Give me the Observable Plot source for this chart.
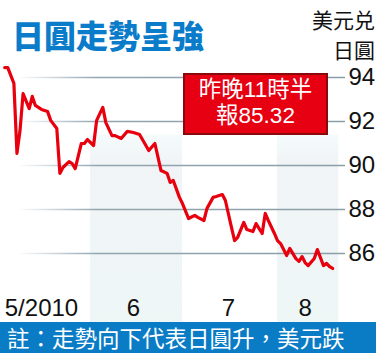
<!DOCTYPE html>
<html>
<head>
<meta charset="utf-8">
<script src="https://cdn.jsdelivr.net/npm/d3@7"></script>
<script src="https://cdn.jsdelivr.net/npm/@observablehq/plot@0.6"></script>
<style>
  html, body { margin: 0; padding: 0; background: #fff; }
  #wrap { position: relative; width: 376px; height: 353px; overflow: hidden; font-family: "Liberation Sans", "Noto Sans CJK TC", sans-serif; }
  #title { position: absolute; left: 12px; top: 14px; font-family: "Noto Sans CJK TC", sans-serif; font-weight: 900; font-size: 32px; line-height: 40px; color: #0a7cc9; white-space: nowrap; }
  #unit { position: absolute; right: 1px; top: 4px; font-family: "Noto Sans CJK TC", sans-serif; font-size: 21px; line-height: 30px; color: #111; text-align: right; }
  #box { position: absolute; left: 183px; top: 73px; width: 141px; height: 56px; background: #e60012; border: 2px solid #8a0a0a; color: #fff; text-align: center; font-size: 22.5px; line-height: 26px; padding-top: 2px; box-sizing: content-box; }
  #box div { white-space: nowrap; }
  #footer { position: absolute; left: 0; top: 322px; width: 376px; height: 31px; background: #0a7cc6; color: #fff; font-family: "Noto Sans CJK TC", sans-serif; font-size: 22.5px; line-height: 31px; padding-left: 7px; box-sizing: border-box; white-space: nowrap; }
  #chart { position: absolute; left: 0; top: 0; }
</style>
</head>
<body>
<div id="wrap">
  <div id="chart"></div>
  <div id="title"></div>
  <div id="unit"></div>
  <div id="box"></div>
  <div id="footer"></div>
</div>
<script>
// ---- data ----
const titleText = "日圓走勢呈強";
const unitLines = ["美元兑", "日圓"];
const noteText = "註：走勢向下代表日圓升，美元跌";
const boxLine1 = "昨晚11時半";
const lastQuoteLabel = "報";
const lastQuote = 85.32;

const dates = [
  "2010-05-04","2010-05-05","2010-05-07","2010-05-08","2010-05-09","2010-05-10","2010-05-12","2010-05-13",
  "2010-05-14","2010-05-16","2010-05-18","2010-05-19","2010-05-21","2010-05-22","2010-05-23","2010-05-25",
  "2010-05-26","2010-05-27","2010-05-29","2010-05-30","2010-05-31","2010-06-02","2010-06-03","2010-06-05",
  "2010-06-06","2010-06-08","2010-06-09","2010-06-11","2010-06-13","2010-06-15","2010-06-17","2010-06-20",
  "2010-06-22","2010-06-24","2010-06-26","2010-06-27","2010-06-28","2010-06-30","2010-07-01","2010-07-03",
  "2010-07-05","2010-07-06","2010-07-08","2010-07-09","2010-07-11","2010-07-12","2010-07-14","2010-07-15",
  "2010-07-17","2010-07-18","2010-07-19","2010-07-21","2010-07-22","2010-07-24","2010-07-25","2010-07-27",
  "2010-07-28","2010-07-29","2010-07-31","2010-08-01","2010-08-02","2010-08-04","2010-08-05","2010-08-07",
  "2010-08-08","2010-08-09","2010-08-10","2010-08-11","2010-08-13","2010-08-14","2010-08-16","2010-08-17",
  "2010-08-18","2010-08-19"
];
const values = [
  94.45, 94.45, 93.73, 90.55, 91.59, 93.27, 92.59, 93.14,
  92.73, 92.55, 92.45, 92.05, 91.68, 89.64, 89.91, 90.18,
  90.09, 89.86, 91.00, 91.00, 91.18, 90.91, 92.05, 92.64,
  91.95, 91.36, 91.36, 91.23, 91.55, 91.50, 91.41, 90.68,
  91.00, 89.77, 89.64, 89.23, 89.32, 88.55, 88.27, 87.59,
  87.73, 87.64, 87.50, 88.05, 88.55, 88.59, 88.68, 88.41,
  87.18, 86.59, 86.73, 87.41, 87.09, 87.00, 87.36, 86.91,
  87.82, 87.50, 86.91, 86.59, 86.45, 85.91, 86.23, 85.77,
  85.64, 85.86, 85.59, 85.45, 85.77, 86.18, 85.45, 85.55,
  85.40, 85.32
];
const bandStarts = ["2010-06-01", "2010-08-01"];
const bandEnds = ["2010-07-01", "2010-08-21"];
const monthLabelDates = ["2010-05-16", "2010-06-15", "2010-07-16", "2010-08-10"];
const monthLabels = ["5/2010", "6", "7", "8"];
const yTicks = [86, 88, 90, 92, 94];
const xDomain = ["2010-05-01", "2010-08-01"];

// ---- build ----
const series = dates.map((d, i) => ({date: new Date(d), value: values[i]}));
const bands = bandStarts.map((d, i) => ({start: new Date(d), end: new Date(bandEnds[i])}));
const months = monthLabelDates.map((d, i) => ({date: new Date(d), label: monthLabels[i]}));

const chart = Plot.plot({
  width: 376,
  height: 322,
  marginLeft: 0,
  marginRight: 31,
  marginTop: 0,
  marginBottom: 0,
  style: {fontFamily: "'Liberation Sans', Arial, sans-serif", background: "transparent", overflow: "visible", color: "#111"},
  x: {type: "utc", domain: xDomain.map(d => new Date(d)), range: [-5, 277], axis: null},
  y: {domain: [86, 94], range: [253, 77], axis: null},
  marks: [
    Plot.rect(bands, {x1: "start", x2: "end", fill: "url(#bandGrad)"}),
    Plot.ruleY(yTicks, {stroke: "url(#gridGrad)", strokeWidth: 1.6}),
    Plot.axisY(yTicks, {anchor: "right", tickSize: 0, tickPadding: 3, fontSize: 24, label: null, fill: "#111"}),
    Plot.text(months, {x: "date", text: "label", frameAnchor: "bottom", lineAnchor: "middle", dy: -14, fontSize: 24, fill: "#111"}),
    Plot.line(series, {x: "date", y: "value", stroke: "#e8000f", strokeWidth: 3.2, strokeLinejoin: "round", strokeLinecap: "round"})
  ]
});

const defs = d3.select(chart).insert("defs", ":first-child");
const g1 = defs.append("linearGradient").attr("id", "gridGrad")
  .attr("gradientUnits", "userSpaceOnUse").attr("x1", 0).attr("x2", 345).attr("y1", 0).attr("y2", 0);
g1.append("stop").attr("offset", 0.05).attr("stop-color", "#93a6b0").attr("stop-opacity", 0);
g1.append("stop").attr("offset", 0.28).attr("stop-color", "#93a6b0").attr("stop-opacity", 1);
g1.append("stop").attr("offset", 1).attr("stop-color", "#8a9ea8").attr("stop-opacity", 1);
const g2 = defs.append("linearGradient").attr("id", "bandGrad").attr("x1", 0).attr("x2", 0).attr("y1", 0).attr("y2", 1);
g2.append("stop").attr("offset", 0.415).attr("stop-color", "#f4fbfb").attr("stop-opacity", 0);
g2.append("stop").attr("offset", 0.42).attr("stop-color", "#f4fbfb").attr("stop-opacity", 1);
g2.append("stop").attr("offset", 0.5).attr("stop-color", "#f1f4f6").attr("stop-opacity", 1);
g2.append("stop").attr("offset", 1).attr("stop-color", "#eef6f6").attr("stop-opacity", 1);

document.getElementById("chart").appendChild(chart);
document.getElementById("title").textContent = titleText;
document.getElementById("unit").innerHTML = unitLines.map(t => `<div>${t}</div>`).join("");
document.getElementById("box").innerHTML = `<div>${boxLine1}</div><div>${lastQuoteLabel}${lastQuote.toFixed(2)}</div>`;
document.getElementById("footer").textContent = noteText;
</script>
</body>
</html>
